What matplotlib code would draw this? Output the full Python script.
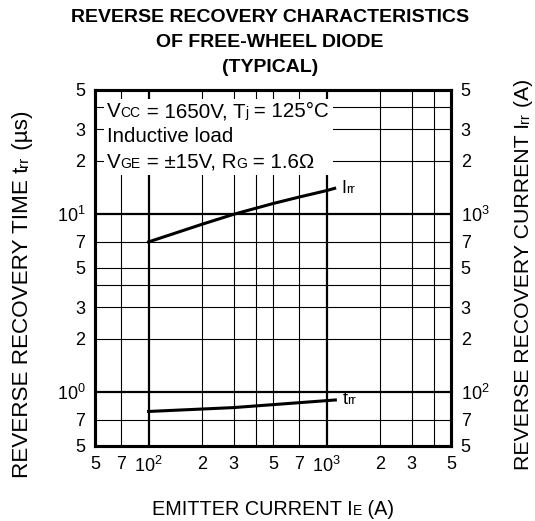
import matplotlib
matplotlib.use('Agg')
import matplotlib.pyplot as plt
from matplotlib.offsetbox import TextArea, HPacker, VPacker, AnnotationBbox

plt.rcParams['font.family'] = ['Liberation Sans', 'DejaVu Sans']

# curves
irr_current = [100, 200, 300, 500, 700, 1000, 1110]     # A
irr = [700, 880, 1000, 1150, 1250, 1360, 1400]          # A (right axis)
trr_current = [100, 300, 1120]                          # A
trr = [0.78, 0.82, 0.905]                               # us (left axis)

x_ticks = [50, 70, 100, 200, 300, 500, 700, 1000, 2000, 3000, 5000]
x_labels = ['5', '7', r'$\mathregular{10^2}$', '2', '3', '5', '7',
            r'$\mathregular{10^3}$', '2', '3', '5']
x_grid = [70, 100, 200, 300, 400, 500, 700, 1000, 2000, 3000, 4000]

left_ticks = [0.5, 0.7, 1, 2, 3, 5, 7, 10, 20, 30, 50]
left_labels = ['5', '7', r'$\mathregular{10^0}$', '2', '3', '5', '7',
               r'$\mathregular{10^1}$', '2', '3', '5']
y_grid = [0.7, 1, 2, 3, 4, 5, 7, 10, 20, 30, 40]

right_ticks = [50, 70, 100, 200, 300, 500, 700, 1000, 2000, 3000, 5000]
right_labels = ['5', '7', r'$\mathregular{10^2}$', '2', '3', '5', '7',
                r'$\mathregular{10^3}$', '2', '3', '5']

BIG, SMALL = 14.8, 10

fig = plt.figure(figsize=(5.35, 5.21), dpi=100)
ax = fig.add_axes([0.1776, 0.1443, 0.6654, 0.683])
ax.set_xscale('log')
ax.set_yscale('log')
ax.set_xlim(50, 5000)
ax.set_ylim(0.5, 50)

for v in x_grid:
    ax.axvline(v, color='black', lw=1.6 if v in (100, 1000) else 0.8, zorder=1)
for v in y_grid:
    ax.axhline(v, color='black', lw=1.6 if v in (1, 10) else 0.8, zorder=1)

ax.set_xticks(x_ticks, x_labels)
ax.set_yticks(left_ticks, left_labels)
ax.minorticks_off()
ax.tick_params(length=0, labelsize=13, pad=7)

ax2 = ax.twinx()
ax2.set_yscale('log')
ax2.set_ylim(50, 5000)
ax2.set_yticks(right_ticks, right_labels)
ax2.minorticks_off()
ax2.tick_params(length=0, labelsize=13, pad=7)

for a in (ax, ax2):
    for sp in a.spines.values():
        sp.set_linewidth(2.2)

ax.plot(trr_current, trr, color='black', lw=2.2, zorder=3)
ax2.plot(irr_current, irr, color='black', lw=2.2, zorder=3)


def rich_line(parts):
    return HPacker(children=[TextArea(s, textprops=dict(size=sz)) for s, sz in parts],
                   align='baseline', pad=0, sep=0)


# condition box
cond = VPacker(children=[
    rich_line([('V', BIG), ('CC', SMALL), (' = 1650V, T', BIG), ('j', SMALL), (' = 125°C', BIG)]),
    rich_line([('Inductive load', BIG)]),
    rich_line([('V', BIG), ('GE', SMALL), (' = ±15V, R', BIG), ('G', SMALL), (' = 1.6Ω', BIG)]),
], align='left', pad=0, sep=4.5)
ab = AnnotationBbox(cond, (0.034, 0.966), xycoords='axes fraction', box_alignment=(0, 1),
                    frameon=True, pad=0.25, bboxprops=dict(facecolor='white', edgecolor='none'))
ab.set_zorder(5)
ax2.add_artist(ab)

# curve labels
for a, xs, ys, lead in ((ax2, irr_current, irr, 'I'), (ax, trr_current, trr, 't')):
    lab = rich_line([(lead, 13), ('rr', 9.5)])
    a.add_artist(AnnotationBbox(lab, (xs[-1], ys[-1]), xybox=(5, 0), boxcoords='offset points',
                                box_alignment=(0, 0.5), frameon=False, pad=0))


def rich_label(x, y, parts, rotation=0):
    prev = ax.annotate(parts[0][0], (x, y), xycoords='figure fraction', size=parts[0][1],
                       rotation=rotation, rotation_mode='anchor', ha='left', va='baseline')
    for s, sz in parts[1:]:
        if rotation == 90:
            xy, coords = (x, 1), ('figure fraction', prev)
        else:
            xy, coords = (1, y), (prev, 'figure fraction')
        prev = ax.annotate(s, xy, xycoords=coords, size=sz, rotation=rotation,
                           rotation_mode='anchor', ha='left', va='baseline')


rich_label(0.052, 0.0825, [('REVERSE RECOVERY TIME t', 16.2), ('rr', 11), (' (µs)', 16.2)], 90)
rich_label(0.988, 0.098, [('REVERSE RECOVERY CURRENT I', 15.3), ('rr', 10.5), (' (A)', 15.3)], 90)
rich_label(0.284, 0.0115, [('EMITTER CURRENT I', 14.3), ('E', 10), (' (A)', 14.3)])

fig.text(0.505, 1 - 9 / 521, 'REVERSE RECOVERY CHARACTERISTICS\nOF FREE-WHEEL DIODE\n(TYPICAL)',
         ha='center', va='top', size=14, weight='bold', linespacing=1.6)

fig.savefig('out.png', dpi=100)
